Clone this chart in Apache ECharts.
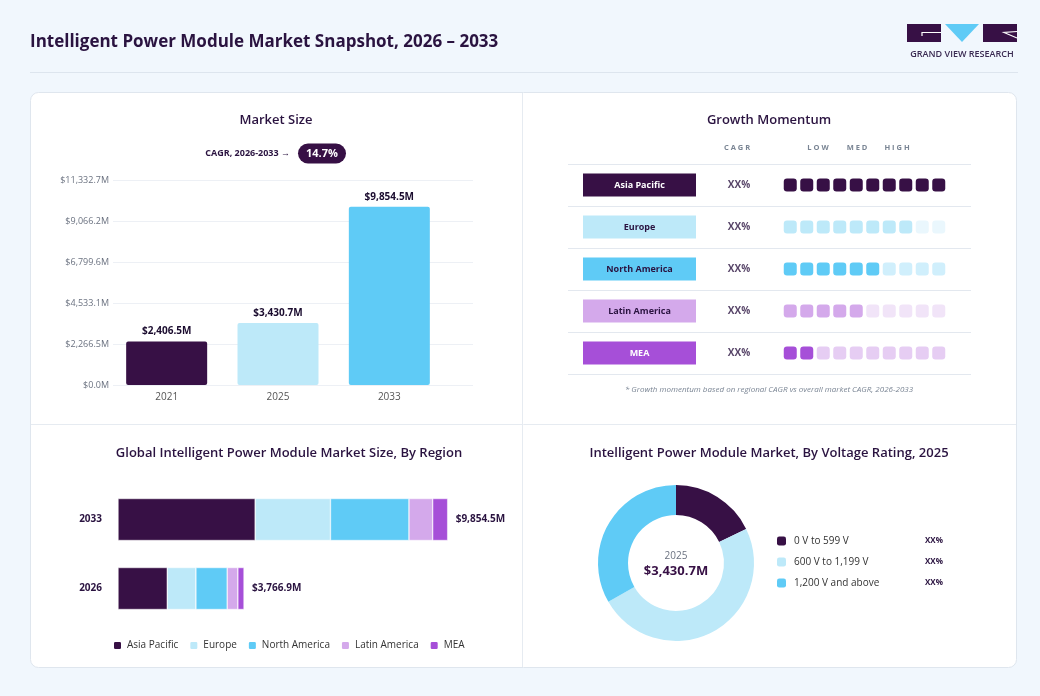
<!DOCTYPE html>
<html>
<head>
<meta charset="utf-8">
<script src="https://cdn.jsdelivr.net/npm/echarts@6/dist/echarts.min.js"></script>
<style>
  html, body { margin: 0; padding: 0; background: #f1f7fd; }
  #chart { width: 1040px; height: 696px; }
</style>
</head>
<body>
<div id="chart"></div>
<script>
// market size
const years = ['2021', '2025', '2033'];
const marketSize = [2406.5, 3430.7, 9854.5];
const marketAxisMax = 11332.7;
const cagrLabel = '14.7%';

// growth momentum
const regions = ['Asia Pacific', 'Europe', 'North America', 'Latin America', 'MEA'];
const regionCagr = ['XX%', 'XX%', 'XX%', 'XX%', 'XX%'];
const momentumLevels = [10, 8, 6, 5, 2];
const momentumCells = ['1', '2', '3', '4', '5', '6', '7', '8', '9', '10'];

// market size by region
const stackYears = ['2033', '2026'];
const asiaPacific = [4100, 1472];
const europe = [2251, 857];
const northAmerica = [2347, 935];
const latinAmerica = [708, 319];
const mea = [448.5, 183.9];
const stackTotals = [9854.5, 3766.9];

// voltage rating
const voltageNames = ['0 V to 599 V', '600 V to 1,199 V', '1,200 V and above'];
const voltageShare = [17.8, 48.9, 33.3];
const voltagePctLabels = ['XX%', 'XX%', 'XX%'];
const voltageYear = '2025';
const voltageTotal = 3430.7;

const FONT = '"Open Sans", "Noto Sans", sans-serif';
const DARK = '#371045';
const INK = '#2a1340';
const regionColors = ['#371045', '#bde9f9', '#5fcbf6', '#d4a9eb', '#a64fd8'];
const regionFaded = ['#d8cfdc', '#eaf7fd', '#d0effc', '#f1e4f8', '#e6cdf3'];
const voltageColors = ['#371045', '#bde9f9', '#5fcbf6'];

const money = v => '$' + v.toLocaleString('en-US', { minimumFractionDigits: 1, maximumFractionDigits: 1 }) + 'M';

const chart = echarts.init(document.getElementById('chart'));

const cellData = [];
regions.forEach((r, ri) => {
  momentumCells.forEach((c, ci) => {
    cellData.push([ci, ri, ci < momentumLevels[ri] ? 1 : 0]);
  });
});

const txt = (x, y, text, font, fill, align) => ({
  type: 'text', x, y, z: 10,
  style: { text, font, fill, textAlign: align || 'center', textVerticalAlign: 'middle' }
});

const stackSeries = [asiaPacific, europe, northAmerica, latinAmerica, mea].map((vals, i) => ({
  name: regions[i],
  type: 'bar',
  stack: 'total',
  xAxisIndex: 5,
  yAxisIndex: 5,
  barWidth: 42,
  data: vals,
  itemStyle: { color: regionColors[i], borderColor: '#ffffff', borderWidth: 0.5 },
  label: i === 4 ? {
    show: true, position: 'right', distance: 8,
    formatter: p => money(stackTotals[p.dataIndex]),
    fontFamily: FONT, fontSize: 10, fontWeight: 'bold', color: INK
  } : { show: false }
}));

const options = {
  animation: false,
  backgroundColor: '#f1f7fd',
  textStyle: { fontFamily: FONT },
  graphic: [
    // page frame
    { type: 'line', shape: { x1: 30, y1: 72.5, x2: 1018, y2: 72.5 }, style: { stroke: '#dde5ee', lineWidth: 1 } },
    { type: 'rect', shape: { x: 30.5, y: 92.5, width: 986, height: 575, r: 8 }, style: { fill: '#ffffff', stroke: '#dfe6ee', lineWidth: 1 }, z: -10 },
    { type: 'line', shape: { x1: 522.5, y1: 93, x2: 522.5, y2: 667 }, style: { stroke: '#e6ebf1', lineWidth: 1 }, z: -9 },
    { type: 'line', shape: { x1: 31, y1: 424.5, x2: 1016, y2: 424.5 }, style: { stroke: '#e6ebf1', lineWidth: 1 }, z: -9 },
    // logo
    { type: 'rect', shape: { x: 907, y: 24, width: 34, height: 18 }, style: { fill: DARK } },
    { type: 'polyline', shape: { points: [[941, 32.5], [922, 32.5], [922, 36]] }, style: { stroke: '#ffffff', lineWidth: 1.2, fill: null } },
    { type: 'polygon', shape: { points: [[945, 24], [979, 24], [962, 42]] }, style: { fill: '#5fcbf6' } },
    { type: 'rect', shape: { x: 983, y: 24, width: 34, height: 18 }, style: { fill: DARK } },
    { type: 'polyline', shape: { points: [[1017, 31.5], [1004, 32.5], [1017, 38]] }, style: { stroke: '#ffffff', lineWidth: 1.2, fill: null } },
    txt(962, 54, 'GRAND VIEW RESEARCH', '600 9px ' + FONT, '#3a2a52'),
    // main title
    txt(30, 42, 'Intelligent Power Module Market Snapshot, 2026 – 2033', 'bold 17px ' + FONT, INK, 'left'),
    // panel titles
    txt(276, 120, 'Market Size', '600 13px ' + FONT, INK),
    txt(769, 120, 'Growth Momentum', '600 13px ' + FONT, INK),
    txt(289, 453, 'Global Intelligent Power Module Market Size, By Region', '600 13px ' + FONT, INK),
    txt(769, 453, 'Intelligent Power Module Market, By Voltage Rating, 2025', '600 13px ' + FONT, INK),
    // cagr pill
    txt(290, 153, 'CAGR, 2026-2033 →', 'bold 9px ' + FONT, INK, 'right'),
    { type: 'rect', shape: { x: 298, y: 143.5, width: 48, height: 20, r: 10 }, style: { fill: DARK } },
    txt(322, 153.5, cagrLabel, 'bold 11px ' + FONT, '#ffffff'),
    // momentum header + footnote
    txt(737, 148, 'C A G R', 'bold 7.5px ' + FONT, '#7a8594'),
    txt(818, 148, 'L O W', 'bold 7.5px ' + FONT, '#7a8594'),
    txt(857, 148, 'M E D', 'bold 7.5px ' + FONT, '#7a8594'),
    txt(897, 148, 'H I G H', 'bold 7.5px ' + FONT, '#7a8594'),
    txt(769, 390, '* Growth momentum based on regional CAGR vs overall market CAGR, 2026-2033', 'italic 8px ' + FONT, '#7a8594'),
    // donut centre
    txt(676, 556, voltageYear, '10px ' + FONT, '#6b7280'),
    txt(676, 571, money(voltageTotal), 'bold 13px ' + FONT, DARK)
  ],
  legend: [
    {
      data: regions,
      left: 107, top: 635,
      icon: 'roundRect', itemWidth: 9, itemHeight: 9, itemGap: 10,
      textStyle: { fontFamily: FONT, fontSize: 10, color: '#333' }
    },
    {
      data: voltageNames,
      left: 772, top: 531, orient: 'vertical',
      icon: 'roundRect', itemWidth: 9, itemHeight: 9, itemGap: 11,
      formatter: name => '{n|' + name + '}{p|' + voltagePctLabels[voltageNames.indexOf(name)] + '}',
      textStyle: {
        fontFamily: FONT, color: '#333',
        rich: {
          n: { fontFamily: FONT, fontSize: 10, color: '#333', width: 131, padding: [0, 0, 0, 3] },
          p: { fontFamily: FONT, fontSize: 8, fontWeight: 'bold', color: INK }
        }
      }
    }
  ],
  grid: [
    { left: 113, top: 180, width: 360, height: 205 },
    { left: 782, top: 164, width: 165, height: 210 },
    { left: 568, top: 164, width: 403, height: 210 },
    { left: 583, top: 164, width: 113, height: 210 },
    { left: 719, top: 164, width: 40, height: 210 },
    { left: 118, top: 485, width: 368, height: 138 },
    { left: 111, top: 180, width: 334, height: 205 }
  ],
  xAxis: [
    { gridIndex: 0, type: 'value', min: 0, max: 1, show: false },
    { gridIndex: 1, type: 'category', data: momentumCells, show: false },
    { gridIndex: 2, type: 'value', min: 0, max: 1, show: false },
    { gridIndex: 3, type: 'category', data: ['badge'], show: false },
    { gridIndex: 4, type: 'category', data: ['cagr'], show: false },
    { gridIndex: 5, type: 'value', min: 0, max: 11000, show: false },
    {
      gridIndex: 6, type: 'category', data: years,
      axisLine: { show: false }, axisTick: { show: false },
      axisLabel: { color: '#555', fontSize: 10, margin: 7 }
    }
  ],
  yAxis: [
    {
      gridIndex: 0, type: 'value', min: 0, max: marketAxisMax, interval: marketAxisMax / 5,
      axisLine: { show: false }, axisTick: { show: false },
      splitLine: { lineStyle: { color: '#edf0f5' } },
      axisLabel: { color: '#6b7280', fontSize: 9, margin: 4, formatter: v => money(v) }
    },
    { gridIndex: 1, type: 'category', data: regions, inverse: true, show: false },
    {
      gridIndex: 2, type: 'category', data: regions, inverse: true,
      axisLine: { show: false }, axisTick: { show: false }, axisLabel: { show: false },
      splitLine: { show: true, lineStyle: { color: '#e3e8ef' } }
    },
    { gridIndex: 3, type: 'category', data: regions, inverse: true, show: false },
    { gridIndex: 4, type: 'category', data: regions, inverse: true, show: false },
    {
      gridIndex: 5, type: 'category', data: stackYears, inverse: true,
      axisLine: { show: false }, axisTick: { show: false },
      axisLabel: { color: INK, fontSize: 10, fontWeight: 'bold', margin: 16 }
    },
    { gridIndex: 6, type: 'value', min: 0, max: marketAxisMax, show: false }
  ],
  series: [
    {
      type: 'bar', xAxisIndex: 6, yAxisIndex: 6, barWidth: 81,
      data: marketSize.map((v, i) => ({ value: v, itemStyle: { color: regionColors[i] } })),
      itemStyle: { borderRadius: 2 },
      label: {
        show: true, position: 'top', distance: 5,
        formatter: p => money(p.value),
        fontFamily: FONT, fontSize: 10, fontWeight: 'bold', color: '#1a0b2e'
      }
    },
    {
      type: 'scatter', xAxisIndex: 1, yAxisIndex: 1,
      symbol: 'roundRect', symbolSize: 13,
      data: cellData,
      itemStyle: { color: p => p.data[2] ? regionColors[p.data[1]] : regionFaded[p.data[1]], opacity: 1 }
    },
    {
      type: 'scatter', xAxisIndex: 3, yAxisIndex: 3,
      symbol: 'rect', symbolSize: [113, 23],
      data: regions.map((r, i) => ({
        value: [0, i], name: r,
        itemStyle: { color: regionColors[i] },
        label: { color: (i === 0 || i === 4) ? '#ffffff' : INK }
      })),
      itemStyle: { opacity: 1 },
      label: {
        show: true, position: 'inside', formatter: p => p.name,
        fontFamily: FONT, fontSize: 9, fontWeight: 'bold'
      }
    },
    {
      type: 'scatter', xAxisIndex: 4, yAxisIndex: 4,
      symbolSize: 1,
      data: regionCagr.map((c, i) => ({ value: [0, i], name: c })),
      itemStyle: { color: 'rgba(0,0,0,0)' },
      label: {
        show: true, position: 'inside', formatter: p => p.name,
        fontFamily: FONT, fontSize: 10, fontWeight: 'bold', color: INK
      }
    },
    ...stackSeries,
    {
      type: 'pie', center: [676, 563], radius: [48, 78], startAngle: 90,
      label: { show: false }, labelLine: { show: false },
      data: voltageNames.map((n, i) => ({ name: n, value: voltageShare[i], itemStyle: { color: voltageColors[i] } }))
    }
  ]
};

chart.setOption(options);
</script>
</body>
</html>
